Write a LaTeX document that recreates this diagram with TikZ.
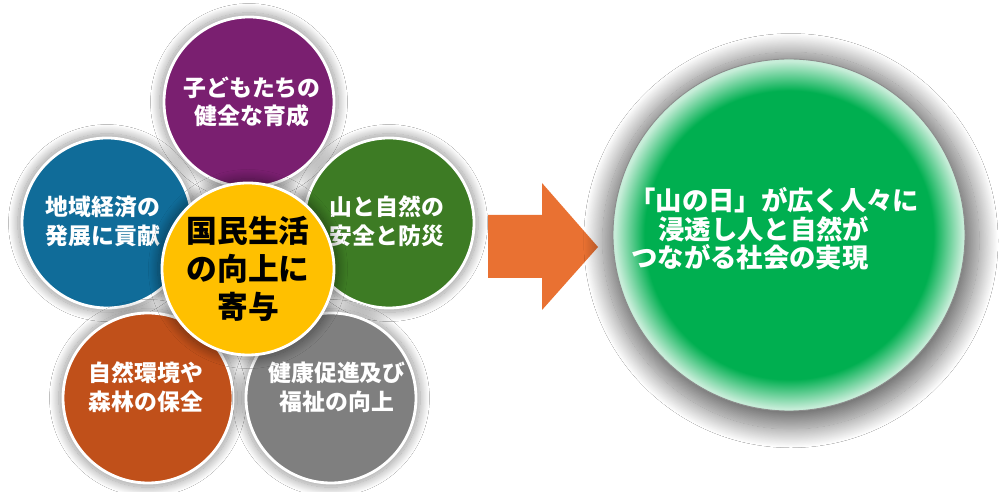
\documentclass[tikz,border=0pt]{standalone}
\usepackage{fontspec}
\newfontfamily\jpfont{Noto Sans CJK JP}
\usetikzlibrary{shadows.blur}
\definecolor{petalpurple}{HTML}{7A1F70}
\definecolor{petalblue}{HTML}{106C99}
\definecolor{petalgreen}{HTML}{3D7B24}
\definecolor{petalorange}{HTML}{C0501A}
\definecolor{petalgray}{HTML}{7F7F7F}
\definecolor{coreyellow}{HTML}{FFC000}
\definecolor{arroworange}{HTML}{E97132}
\definecolor{goalgreen}{HTML}{00AF50}
\pgfdeclareradialshading{goalglow}{\pgfpoint{0bp}{0bp}}{%
  color(0bp)=(goalgreen); color(20.5bp)=(goalgreen);
  color(24.7bp)=(goalgreen!22!white); color(50bp)=(goalgreen!22!white)}
\tikzset{
  petal/.style={circle, minimum size=3.4cm, inner sep=0pt, draw=white, line width=1.6pt,
    blur shadow={shadow xshift=0pt, shadow yshift=0pt, shadow scale=1.05,
      shadow blur radius=5pt, shadow blur steps=25, shadow opacity=40}},
  petaltext/.style={text=white, align=center, inner sep=0pt,
    font=\jpfont\bfseries\fontsize{13}{16.4}\selectfont},
}

\begin{document}
\begin{tikzpicture}[x=0.2mm, y=-0.2mm]

    \useasboundingbox[fill=white] (0,0) rectangle (1000,492);

    % =====================
    % Outer circles
    % =====================
    \node[petal, fill=petalpurple] (children) at (249,102) {};
    \node[petal, fill=petalblue]   (economy)  at (107,223) {};
    \node[petal, fill=petalgreen]  (safety)   at (389,223) {};
    \node[petal, fill=petalorange] (forest)   at (148,398) {};
    \node[petal, fill=petalgray]   (health)   at (331,398) {};

    \node[petaltext] (children text) at (252,102) {子どもたちの\\健全な育成};
    \node[petaltext] (economy text)  at (103,221) {地域経済の\\発展に貢献};
    \node[petaltext] (safety text)   at (387,221) {山と自然の\\安全と防災};
    \node[petaltext] (forest text)   at (146,387) {自然環境や\\森林の保全};
    \node[petaltext] (health text)   at (337,387) {健康促進及び\\福祉の向上};

    % =====================
    % Center circle
    % =====================
    \node[petal, fill=coreyellow, minimum size=3.44cm, text=black, align=center,
      font=\jpfont\bfseries\fontsize{17.5}{21.8}\selectfont] (core) at (248,269)
      {国民生活\\の向上に\\寄与};

    % =====================
    % Arrow
    % =====================
    \fill[arroworange] (488,215) -- (542,215) -- (542,183) -- (598,247)
      -- (542,310) -- (542,278) -- (488,278) -- cycle;

    % =====================
    % Goal circle
    % =====================
    \node[circle, minimum size=7.04cm, inner sep=0pt, shade, shading=goalglow,
      draw=black!45, line width=0.5pt,
      blur shadow={shadow xshift=1pt, shadow yshift=-3pt, shadow scale=1.07,
        shadow blur radius=10pt, shadow blur steps=30, shadow opacity=55}] (goal) at (789,235) {};
    \node[anchor=west, text=white, align=left, inner sep=0pt,
      font=\jpfont\bfseries\fontsize{15}{16.3}\selectfont] (goal text) at (629,229)
      {「山の日」が広く人々に\\\hspace*{0.58cm}浸透し人と自然が\\\hspace*{0.04cm}つながる社会の実現};

\end{tikzpicture}
\end{document}
